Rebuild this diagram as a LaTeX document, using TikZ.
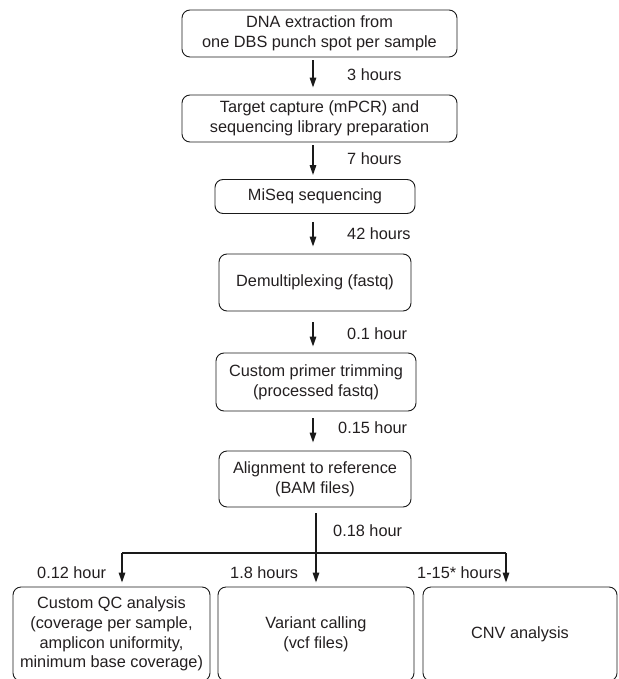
\documentclass[tikz,border=0pt]{standalone}
\usepackage{fontspec}
\setmainfont{Liberation Sans}
\usetikzlibrary{arrows.meta,positioning}
\definecolor{cborde}{HTML}{1A1A1A}
\definecolor{ctexto}{HTML}{231F20}
\tikzset{
  bloque/.style={draw=cborde,rounded corners=8pt,align=center,inner sep=2pt,
                 text=ctexto,font=\fontsize{16.3}{19.8}\selectfont,line width=0.9pt},
  flecha/.style={-{Triangle[length=10pt,width=6.5pt]},draw=cborde,line width=1.5pt},
  linea/.style={draw=cborde,line width=1.5pt},
  et/.style={font=\fontsize{16.3}{19.8}\selectfont,text=ctexto,inner sep=0pt,anchor=west},
}

\begin{document}
\begin{tikzpicture}[x=1pt,y=-1pt]
\useasboundingbox (0,0) rectangle (618,679);

\node[bloque,minimum width=275pt,minimum height=47pt] (dna) at (319.5,33.5)
  {DNA extraction from\\one DBS punch spot per sample};
\node[bloque,minimum width=275pt,minimum height=47pt] (lib) at (319.5,118.5)
  {Target capture (mPCR) and\\sequencing library preparation};
\node[bloque,minimum width=200pt,minimum height=34pt] (seq) at (315,196.5) {MiSeq sequencing};
\node[bloque,minimum width=192pt,minimum height=57pt] (dem) at (315,282.5) {Demultiplexing (fastq)};
\node[bloque,minimum width=200pt,minimum height=58pt] (pri) at (316,382)
  {Custom primer trimming\\(processed fastq)};
\node[bloque,minimum width=192pt,minimum height=56pt] (ali) at (315,479)
  {Alignment to reference\\(BAM files)};

\node[bloque,minimum width=197pt,minimum height=94pt] (qc) at (111.5,634)
  {Custom QC analysis\\(coverage per sample,\\amplicon uniformity,\\minimum base coverage)};
\node[bloque,minimum width=196pt,minimum height=94pt] (var) at (316,634)
  {Variant calling\\(vcf files)};
\node[bloque,minimum width=194pt,minimum height=94pt] (cnv) at (520,634) {CNV analysis};

% tiempos
\node[et] (t1) at (347,75) {3 hours};
\node[et] (t2) at (347,159) {7 hours};
\node[et] (t3) at (347,234) {42 hours};
\node[et] (t4) at (347,334) {0.1 hour};
\node[et] (t5) at (338,428) {0.15 hour};
\node[et] (t6) at (333,531) {0.18 hour};
\node[et] (t7) at (37,573) {0.12 hour};
\node[et] (t8) at (230,573) {1.8 hours};
\node[et] (t9) at (417,573) {1-15* hours};

\coordinate (eje) at (313,0);
\coordinate (ramaiz) at (122,553);
\coordinate (ramade) at (506,553);

\foreach \a/\b/\s/\t in {dna/lib/3/7,lib/seq/3/4,seq/dem/8/7,dem/pri/11/6,pri/ali/7/8}
  {\draw[flecha,shorten <=\s pt,shorten >=\t pt] (\a.south -| eje) -- (\b.north -| eje);}

\draw[flecha,shorten <=6pt,shorten >=4pt] (ali.south -| var) -- (var.north);
\draw[linea] (ramaiz) -- (ramade);
\draw[flecha,shorten >=4pt] (ramaiz) -- (qc.north -| ramaiz);
\draw[flecha,shorten >=4pt] (ramade) -- (cnv.north -| ramade);

\end{tikzpicture}
\end{document}
